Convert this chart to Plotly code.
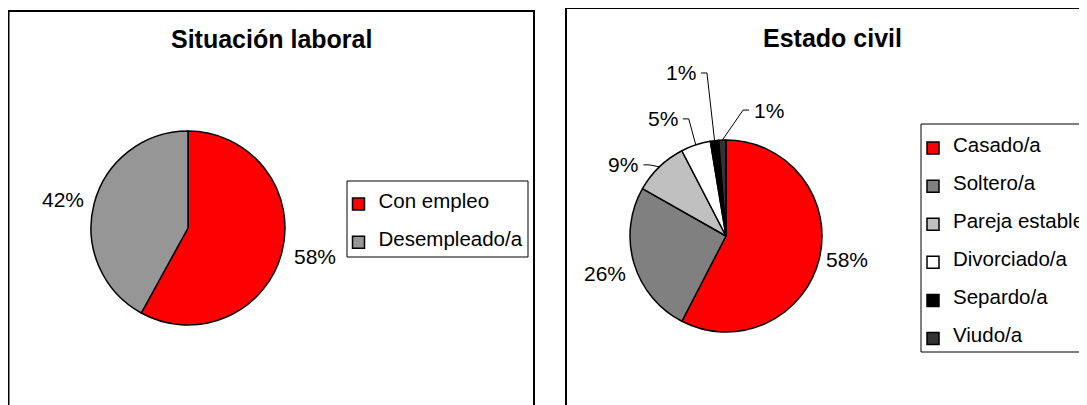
import math
import plotly.graph_objects as go

W, H = 1087, 405
OFF = 8  # browser body margin

# ---- data ----
lab_labels = ["Con empleo", "Desempleado/a"]
lab_values = [58, 42]
lab_colors = ["#FF0000", "#969696"]

civ_labels = ["Casado/a", "Soltero/a", "Pareja estable", "Divorciado/a", "Separdo/a", "Viudo/a"]
civ_values = [57.6, 25.6, 9.2, 5.0, 1.4, 1.2]
civ_colors = ["#FF0000", "#808080", "#C0C0C0", "#FFFFFF", "#000000", "#333333"]

titles = ["Situación laboral", "Estado civil"]

# ---- style / layout (page pixels) ----
FONT = "Liberation Sans, Arial, sans-serif"
LBL_SIZE = 21
LEG_TXT = 20.5
LEG_SHIFT = 7

pie_geo = [dict(cx=188, cy=228, r=97), dict(cx=726, cy=236, r=96)]
# label offsets from the slice's outer-edge midpoint: (dx, dy, anchor, leader)
lab_off = [(10, 4, "left", False), (-8, -4, "right", False)]
civ_off = [(5, 1, "left", False), (-6, 10.6, "right", False), (-19, -2, "right", True),
           (-16, -26, "right", True), (-16.6, -67.7, "right", True), (29.7, -30, "left", True)]


def px_x(v):
    return (v - OFF) / W


def px_y(v):
    return 1 - (v - OFF) / H


def edge_points(values, g):
    tot = float(sum(values))
    pts, cum = [], 0.0
    for v in values:
        mid = (cum + v / 2.0) / tot
        cum += v
        th = 2 * math.pi * mid
        pts.append((g["cx"] + g["r"] * math.sin(th), g["cy"] - g["r"] * math.cos(th), v / tot))
    return pts


fig = go.Figure()

for i, (labels, values, colors, leg) in enumerate([
        (lab_labels, lab_values, lab_colors, "legend"),
        (civ_labels, civ_values, civ_colors, "legend2")]):
    g = pie_geo[i]
    fig.add_trace(go.Pie(
        labels=["<span style='font-size:%spx;baseline-shift:%dpx'>%s</span>" % (LEG_TXT, LEG_SHIFT, t)
                for t in labels],
        values=values, sort=False, direction="clockwise", rotation=0,
        marker=dict(colors=colors, line=dict(color="black", width=1.5)),
        textinfo="none",
        domain=dict(x=[px_x(g["cx"] - g["r"]), px_x(g["cx"] + g["r"])],
                    y=[px_y(g["cy"] + g["r"]), px_y(g["cy"] - g["r"])]),
        legend=leg, hoverinfo="percent",
    ))

annotations = []
shapes = []
for values, g, offs in [(lab_values, pie_geo[0], lab_off), (civ_values, pie_geo[1], civ_off)]:
    for (ex, ey, frac), (dx, dy, anc, leader) in zip(edge_points(values, g), offs):
        ax, ay = ex + dx, ey + dy
        annotations.append(dict(
            text="%d%%" % round(frac * 100), x=px_x(ax), y=px_y(ay), xref="paper", yref="paper",
            showarrow=False, xanchor=anc, yanchor="middle",
            font=dict(family=FONT, size=LBL_SIZE, color="black")))
        if leader:
            s = 1 if anc == "right" else -1
            pts = [(ax + s * 3, ay), (ax + s * 9, ay), (ex, ey)]
            path = "M " + " L ".join("%f %f" % (px_x(x), px_y(y)) for x, y in pts)
            shapes.append(dict(type="path", xref="paper", yref="paper", path=path,
                               line=dict(color="black", width=1)))

# chart titles
annotations.append(dict(text="<b>%s</b>" % titles[0], x=px_x(271), y=px_y(39), xref="paper", yref="paper",
                        showarrow=False, xanchor="center", yanchor="middle",
                        font=dict(family=FONT, size=25, color="black")))
annotations.append(dict(text="<b>%s</b>" % titles[1], x=px_x(832), y=px_y(38.5), xref="paper", yref="paper",
                        showarrow=False, xanchor="center", yanchor="middle",
                        font=dict(family=FONT, size=25, color="black")))

# chart-area borders and legend boxes
shapes += [
    dict(type="rect", xref="paper", yref="paper", x0=px_x(8.5), x1=px_x(534), y0=-0.05, y1=px_y(11),
         line=dict(color="black", width=2), fillcolor="rgba(0,0,0,0)", layer="below"),
    dict(type="rect", xref="paper", yref="paper", x0=px_x(566), x1=1.05, y0=-0.05, y1=px_y(8),
         line=dict(color="black", width=2), fillcolor="rgba(0,0,0,0)", layer="below"),
    dict(type="rect", xref="paper", yref="paper", x0=px_x(347), x1=px_x(528), y0=px_y(257), y1=px_y(181),
         line=dict(color="black", width=1), fillcolor="white", layer="below"),
    dict(type="rect", xref="paper", yref="paper", x0=px_x(921), x1=1.05, y0=px_y(352), y1=px_y(124),
         line=dict(color="black", width=1), fillcolor="white", layer="below"),
]

legend_common = dict(
    font=dict(family=FONT, size=27, color="black"),
    bgcolor="rgba(0,0,0,0)", borderwidth=0,
    xanchor="left", yanchor="top", orientation="v",
)

fig.update_layout(
    width=W, height=H,
    margin=dict(l=0, r=0, t=0, b=0),
    paper_bgcolor="white", plot_bgcolor="white",
    legend=dict(x=px_x(338.5), y=px_y(180), **legend_common),
    legend2=dict(x=px_x(913), y=px_y(124), **legend_common),
    shapes=shapes,
    annotations=annotations,
)

fig.write_html("out.html")
